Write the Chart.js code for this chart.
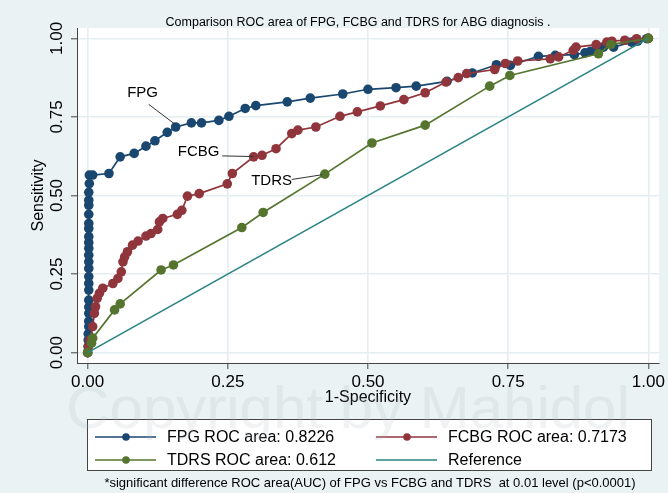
<!DOCTYPE html>
<html>
<head>
<meta charset="utf-8">
<script src="https://cdn.jsdelivr.net/npm/chart.js@4.4.1/dist/chart.umd.min.js"></script>
<style>
  html, body { margin: 0; padding: 0; background: #eaf2f3; }
  #wrap { width: 668px; height: 493px; }
</style>
</head>
<body>
<div id="wrap"><canvas id="roc" width="668" height="493"></canvas></div>
<script>
// ROC curve points (x = 1-Specificity, y = Sensitivity)
const fpgX = [0, 0.001, 0.001, 0.001, 0.002, 0.002, 0.002, 0.002, 0.002, 0.002, 0.002, 0.002, 0.002, 0.002, 0.002, 0.002, 0.002, 0.002, 0.002, 0.002, 0.002, 0.002, 0.002, 0.002, 0.003, 0.003,
  0.009, 0.038, 0.058, 0.083, 0.104, 0.120, 0.142, 0.157, 0.185, 0.203, 0.234, 0.252, 0.281, 0.300, 0.356, 0.397, 0.455,
  0.500, 0.550, 0.586, 0.641, 0.686, 0.729, 0.754, 0.804, 0.834, 0.868, 0.887, 0.897, 0.920, 0.938, 0.970, 0.981, 0.997, 1];
const fpgY = [0, 0.020, 0.040, 0.060, 0.083, 0.100, 0.125, 0.145, 0.167, 0.199, 0.220, 0.242, 0.268, 0.289, 0.310, 0.332, 0.350, 0.369, 0.395, 0.411, 0.440, 0.469, 0.485, 0.510, 0.538, 0.565,
  0.565, 0.570, 0.623, 0.634, 0.657, 0.674, 0.701, 0.718, 0.731, 0.731, 0.739, 0.752, 0.777, 0.786, 0.798, 0.810, 0.823,
  0.838, 0.843, 0.848, 0.863, 0.890, 0.916, 0.914, 0.943, 0.946, 0.948, 0.954, 0.959, 0.972, 0.972, 0.988, 0.991, 0.999, 1];

const fcbgX = [0, 0.001, 0.004, 0.009, 0.012, 0.014, 0.017, 0.021, 0.027, 0.045, 0.054, 0.060, 0.063, 0.066, 0.071, 0.080, 0.090,
  0.104, 0.113, 0.125, 0.128, 0.134, 0.160, 0.168, 0.178, 0.199, 0.249, 0.258, 0.296, 0.311, 0.336, 0.364, 0.375, 0.407,
  0.450, 0.481, 0.522, 0.564, 0.602, 0.639, 0.661, 0.676, 0.726, 0.745, 0.767, 0.825, 0.840, 0.866, 0.871, 0.907, 0.926,
  0.935, 0.958, 0.979, 1];
const fcbgY = [0, 0.019, 0.040, 0.083, 0.125, 0.146, 0.173, 0.189, 0.205, 0.220, 0.236, 0.257, 0.289, 0.305, 0.321, 0.342, 0.355,
  0.371, 0.379, 0.392, 0.416, 0.427, 0.440, 0.453, 0.498, 0.506, 0.537, 0.570, 0.623, 0.628, 0.649, 0.697, 0.708, 0.718,
  0.752, 0.766, 0.785, 0.805, 0.827, 0.861, 0.875, 0.888, 0.901, 0.920, 0.928, 0.935, 0.941, 0.962, 0.972, 0.980, 0.988,
  0.991, 0.994, 0.999, 1];

const tdrsX = [0, 0.007, 0.009, 0.048, 0.058, 0.131, 0.153, 0.275, 0.313, 0.423, 0.507, 0.602, 0.717, 0.753, 0.911, 0.933, 1];
const tdrsY = [0, 0.030, 0.046, 0.136, 0.155, 0.263, 0.279, 0.398, 0.446, 0.568, 0.667, 0.724, 0.848, 0.882, 0.951, 0.980, 1];

const refX = [0, 1];
const refY = [0, 1];

const seriesNames = ['FPG ROC area: 0.8226', 'FCBG ROC area: 0.7173', 'TDRS ROC area: 0.612', 'Reference'];
const xTicks = [0, 0.25, 0.5, 0.75, 1];
const yTicks = [0, 0.25, 0.5, 0.75, 1];

const titleText = 'Comparison ROC area of FPG, FCBG and TDRS for ABG diagnosis .';
const footText = '*significant difference ROC area(AUC) of FPG vs FCBG and TDRS  at 0.01 level (p<0.0001)';

const FONT = "'Liberation Sans', Arial, sans-serif";
const BG = '#eaf2f3';
const GRID = '#e4eef0';

function pts(xs, ys) {
    return xs.map((x, i) => ({ x: x, y: ys[i] }));
}

// curve labels with pointer lines, in data units
const curveNotes = [
    { text: 'FPG', tx: 0.098, ty: 0.828, from: [0.109, 0.790], to: [0.157, 0.725] },
    { text: 'FCBG', tx: 0.198, ty: 0.638, from: [0.240, 0.626], to: [0.296, 0.624] },
    { text: 'TDRS', tx: 0.328, ty: 0.548, from: [0.364, 0.551], to: [0.418, 0.566] }
];

const backdrop = {
    id: 'backdrop',
    beforeDraw(chart) {
        const { ctx, chartArea: a } = chart;
        ctx.save();
        ctx.fillStyle = BG;
        ctx.fillRect(0, 0, chart.width, chart.height);
        ctx.fillStyle = '#ffffff';
        ctx.fillRect(a.left, a.top, a.right - a.left, a.bottom - a.top);
        ctx.restore();
    }
};

const notes = {
    id: 'notes',
    afterDatasetsDraw(chart) {
        const { ctx, scales: { x, y } } = chart;
        ctx.save();
        ctx.strokeStyle = '#333333';
        ctx.lineWidth = 1;
        ctx.fillStyle = '#000000';
        ctx.font = '15px ' + FONT;
        ctx.textAlign = 'center';
        ctx.textBaseline = 'middle';
        curveNotes.forEach(n => {
            ctx.beginPath();
            ctx.moveTo(x.getPixelForValue(n.from[0]), y.getPixelForValue(n.from[1]));
            ctx.lineTo(x.getPixelForValue(n.to[0]), y.getPixelForValue(n.to[1]));
            ctx.stroke();
            ctx.fillText(n.text, x.getPixelForValue(n.tx), y.getPixelForValue(n.ty));
        });
        ctx.restore();
    }
};

const frameText = {
    id: 'frameText',
    afterDraw(chart) {
        const ctx = chart.ctx;
        ctx.save();
        // title
        ctx.fillStyle = '#000000';
        ctx.font = '12.5px ' + FONT;
        ctx.textAlign = 'center';
        ctx.textBaseline = 'middle';
        ctx.fillText(titleText, 358, 23);

        // legend box
        ctx.fillStyle = '#ffffff';
        ctx.fillRect(87, 419, 565, 52);
        ctx.strokeStyle = '#444444';
        ctx.lineWidth = 1;
        ctx.strokeRect(87.5, 419.5, 564, 51);

        const cols = [95, 376];
        const rows = [437, 460];
        ctx.font = '16px ' + FONT;
        ctx.textAlign = 'left';
        chart.data.datasets.forEach((ds, i) => {
            const lx = cols[i % 2];
            const ly = rows[Math.floor(i / 2)];
            ctx.strokeStyle = ds.borderColor;
            ctx.lineWidth = 1.6;
            ctx.beginPath();
            ctx.moveTo(lx, ly);
            ctx.lineTo(lx + 61, ly);
            ctx.stroke();
            if (ds.pointRadius > 0) {
                ctx.fillStyle = ds.borderColor;
                ctx.beginPath();
                ctx.arc(lx + 31, ly, 3.8, 0, Math.PI * 2);
                ctx.fill();
            }
            ctx.fillStyle = '#000000';
            ctx.fillText(ds.label, lx + 72, ly + 1);
        });

        // footnote
        ctx.font = '13px ' + FONT;
        ctx.textAlign = 'center';
        ctx.fillText(footText, 370, 483);

        // watermark
        ctx.font = '60px ' + FONT;
        ctx.fillStyle = 'rgba(170, 185, 190, 0.18)';
        ctx.textBaseline = 'alphabetic';
        ctx.fillText('Copyright by Mahidol', 348, 428);
        ctx.restore();
    }
};

function axisTicks(vals) {
    return function (scale) {
        scale.ticks = vals.map(v => ({ value: v }));
    };
}

const chart = new Chart(document.getElementById('roc'), {
    type: 'scatter',
    data: {
        datasets: [
            { label: seriesNames[0], data: pts(fpgX, fpgY), borderColor: '#1a476f', backgroundColor: '#1a476f', order: 4 },
            { label: seriesNames[1], data: pts(fcbgX, fcbgY), borderColor: '#90353b', backgroundColor: '#90353b', order: 3 },
            { label: seriesNames[2], data: pts(tdrsX, tdrsY), borderColor: '#55752f', backgroundColor: '#55752f', order: 2 },
            { label: seriesNames[3], data: pts(refX, refY), borderColor: '#2b8483', backgroundColor: '#2b8483', order: 1, pointRadius: 0 }
        ].map(d => Object.assign({ showLine: true, borderWidth: 1.7, pointRadius: 4.8, pointBorderWidth: 0, pointHoverRadius: 4.8 }, d))
    },
    options: {
        responsive: false,
        animation: false,
        devicePixelRatio: 1,
        layout: { padding: { left: 25, right: 6, top: 28, bottom: 82 } },
        plugins: {
            legend: { display: false },
            tooltip: { enabled: false }
        },
        scales: {
            x: {
                type: 'linear',
                min: -0.019,
                max: 1.019,
                afterBuildTicks: axisTicks(xTicks),
                afterFit(scale) { scale.height = 48; },
                grid: { color: GRID, lineWidth: 1.6, tickColor: '#444444', tickWidth: 1, tickLength: 6 },
                border: { color: '#444444', width: 1 },
                ticks: {
                    color: '#000000',
                    font: { family: FONT, size: 17 },
                    padding: 3,
                    maxRotation: 0,
                    callback: v => v.toFixed(2)
                },
                title: { display: true, text: '1-Specificity', color: '#000000', font: { family: FONT, size: 16 }, padding: 4 }
            },
            y: {
                type: 'linear',
                min: -0.033,
                max: 1.033,
                afterBuildTicks: axisTicks(yTicks),
                afterFit(scale) { scale.width = 52; },
                grid: { color: GRID, lineWidth: 1.6, tickColor: '#444444', tickWidth: 1, tickLength: 6 },
                border: { color: '#444444', width: 1 },
                ticks: {
                    color: '#000000',
                    font: { family: FONT, size: 17 },
                    padding: -3,
                    minRotation: 90,
                    maxRotation: 90,
                    crossAlign: 'center',
                    callback: v => v.toFixed(2)
                },
                title: { display: true, text: 'Sensitivity', color: '#000000', font: { family: FONT, size: 16 }, padding: 4 }
            }
        }
    },
    plugins: [backdrop, notes, frameText]
});
</script>
</body>
</html>
